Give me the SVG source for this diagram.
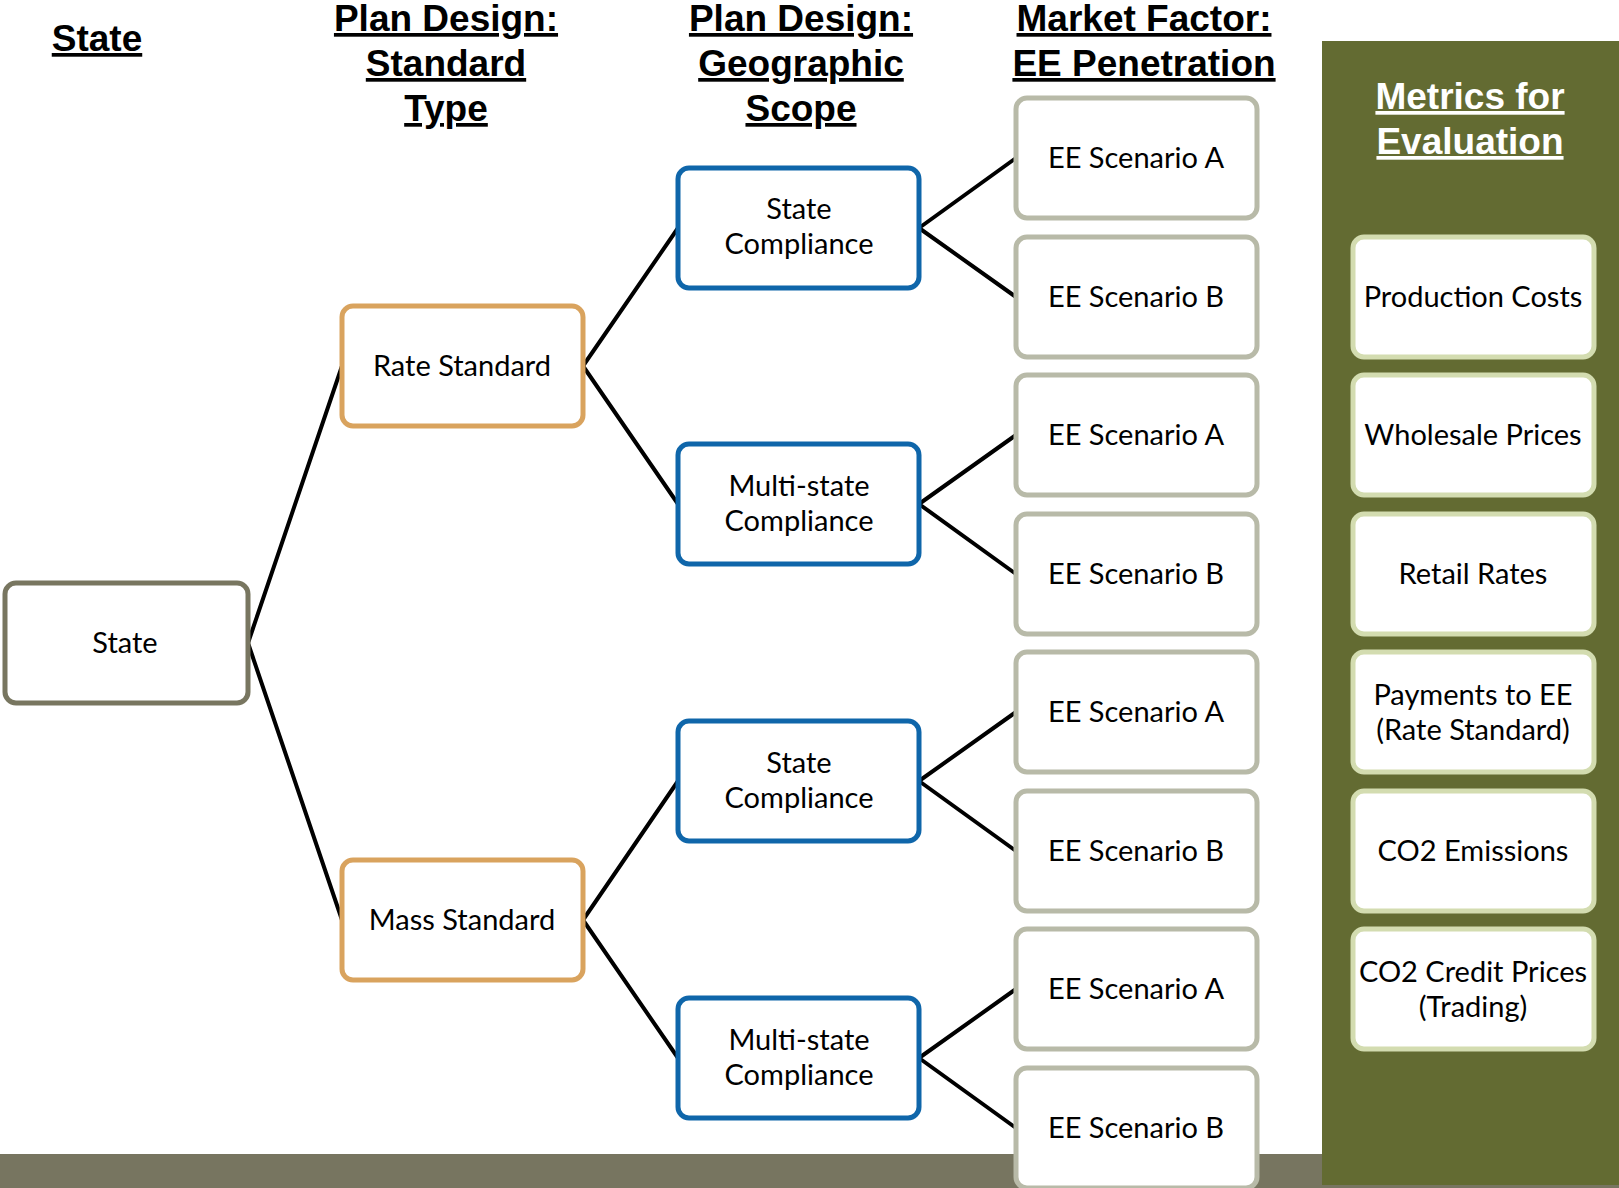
<svg xmlns="http://www.w3.org/2000/svg" width="1619" height="1188" viewBox="0 0 1619 1188">
<style>
.hdr{font-family:"Liberation Sans",Arial,sans-serif;font-weight:bold;font-size:37px;text-anchor:middle;text-decoration:underline;fill:#000}
.hdrw{fill:#fff}
.lbl{font-family:Lato,"Open Sans",sans-serif;font-size:29px;text-anchor:middle;fill:#000}
.box{fill:#fff;stroke-width:5}
.st{stroke:#787660}
.or{stroke:#D9A35E}
.bl{stroke:#0F66AA}
.ee{stroke:#B8BAA8}
.mt{stroke:#D3DCB0}
.con{stroke:#000;stroke-width:4;fill:none}
</style>
<rect x="0" y="1154" width="1619" height="34" fill="#777560"/>
<rect x="1322" y="41" width="297" height="1144" fill="#636B32"/>
<g id="headers">
<text class="hdr" x="97" y="51">State</text>
<text class="hdr" x="446" y="31">Plan Design:</text>
<text class="hdr" x="446" y="76">Standard</text>
<text class="hdr" x="446" y="121">Type</text>
<text class="hdr" x="801" y="31">Plan Design:</text>
<text class="hdr" x="801" y="76">Geographic</text>
<text class="hdr" x="801" y="121">Scope</text>
<text class="hdr" x="1144" y="31">Market Factor:</text>
<text class="hdr" x="1144" y="76">EE Penetration</text>
<text class="hdr hdrw" x="1470" y="109">Metrics for</text>
<text class="hdr hdrw" x="1470" y="154">Evaluation</text>
</g>
<g id="connectors">
<path class="con" d="M248,643 L342,366 M248,643 L342,920"/>
<path class="con" d="M583,366 L678,228 M583,366 L678,504 M583,920 L678,781 M583,920 L678,1058"/>
<path class="con" d="M919,228 L1016,158 M919,228 L1016,297 M919,504 L1016,435 M919,504 L1016,574 M919,781 L1016,712 M919,781 L1016,851 M919,1058 L1016,989 M919,1058 L1016,1128"/>
</g>
<g id="n-state"><rect class="box st" x="5" y="583" width="243" height="120" rx="11"/><text class="lbl" x="125" y="653">State</text></g>
<g id="n-rate"><rect class="box or" x="342" y="306" width="241" height="120" rx="11"/><text class="lbl" x="462" y="376">Rate Standard</text></g>
<g id="n-mass"><rect class="box or" x="342" y="860" width="241" height="120" rx="11"/><text class="lbl" x="462" y="930">Mass Standard</text></g>
<g id="n-sc1"><rect class="box bl" x="678" y="168" width="241" height="120" rx="11"/><text class="lbl" x="799" y="219">State</text><text class="lbl" x="799" y="254">Compliance</text></g>
<g id="n-mc1"><rect class="box bl" x="678" y="444" width="241" height="120" rx="11"/><text class="lbl" x="799" y="496">Multi-state</text><text class="lbl" x="799" y="531">Compliance</text></g>
<g id="n-sc2"><rect class="box bl" x="678" y="721" width="241" height="120" rx="11"/><text class="lbl" x="799" y="773">State</text><text class="lbl" x="799" y="808">Compliance</text></g>
<g id="n-mc2"><rect class="box bl" x="678" y="998" width="241" height="120" rx="11"/><text class="lbl" x="799" y="1050">Multi-state</text><text class="lbl" x="799" y="1085">Compliance</text></g>
<g id="n-ee1"><rect class="box ee" x="1016" y="98" width="241" height="120" rx="11"/><text class="lbl" x="1136" y="168">EE Scenario A</text></g>
<g id="n-ee2"><rect class="box ee" x="1016" y="237" width="241" height="120" rx="11"/><text class="lbl" x="1136" y="307">EE Scenario B</text></g>
<g id="n-ee3"><rect class="box ee" x="1016" y="375" width="241" height="120" rx="11"/><text class="lbl" x="1136" y="445">EE Scenario A</text></g>
<g id="n-ee4"><rect class="box ee" x="1016" y="514" width="241" height="120" rx="11"/><text class="lbl" x="1136" y="584">EE Scenario B</text></g>
<g id="n-ee5"><rect class="box ee" x="1016" y="652" width="241" height="120" rx="11"/><text class="lbl" x="1136" y="722">EE Scenario A</text></g>
<g id="n-ee6"><rect class="box ee" x="1016" y="791" width="241" height="120" rx="11"/><text class="lbl" x="1136" y="861">EE Scenario B</text></g>
<g id="n-ee7"><rect class="box ee" x="1016" y="929" width="241" height="120" rx="11"/><text class="lbl" x="1136" y="999">EE Scenario A</text></g>
<g id="n-ee8"><rect class="box ee" x="1016" y="1068" width="241" height="120" rx="11"/><text class="lbl" x="1136" y="1138">EE Scenario B</text></g>
<g id="m1"><rect class="box mt" x="1353" y="237" width="241" height="120" rx="11"/><text class="lbl" x="1473" y="307">Production Costs</text></g>
<g id="m2"><rect class="box mt" x="1353" y="375" width="241" height="120" rx="11"/><text class="lbl" x="1473" y="445">Wholesale Prices</text></g>
<g id="m3"><rect class="box mt" x="1353" y="514" width="241" height="120" rx="11"/><text class="lbl" x="1473" y="584">Retail Rates</text></g>
<g id="m4"><rect class="box mt" x="1353" y="652" width="241" height="120" rx="11"/><text class="lbl" x="1473" y="705">Payments to EE</text><text class="lbl" x="1473" y="740">(Rate Standard)</text></g>
<g id="m5"><rect class="box mt" x="1353" y="791" width="241" height="120" rx="11"/><text class="lbl" x="1473" y="861">CO2 Emissions</text></g>
<g id="m6"><rect class="box mt" x="1353" y="929" width="241" height="120" rx="11"/><text class="lbl" x="1473" y="982">CO2 Credit Prices</text><text class="lbl" x="1473" y="1017">(Trading)</text></g>
</svg>
